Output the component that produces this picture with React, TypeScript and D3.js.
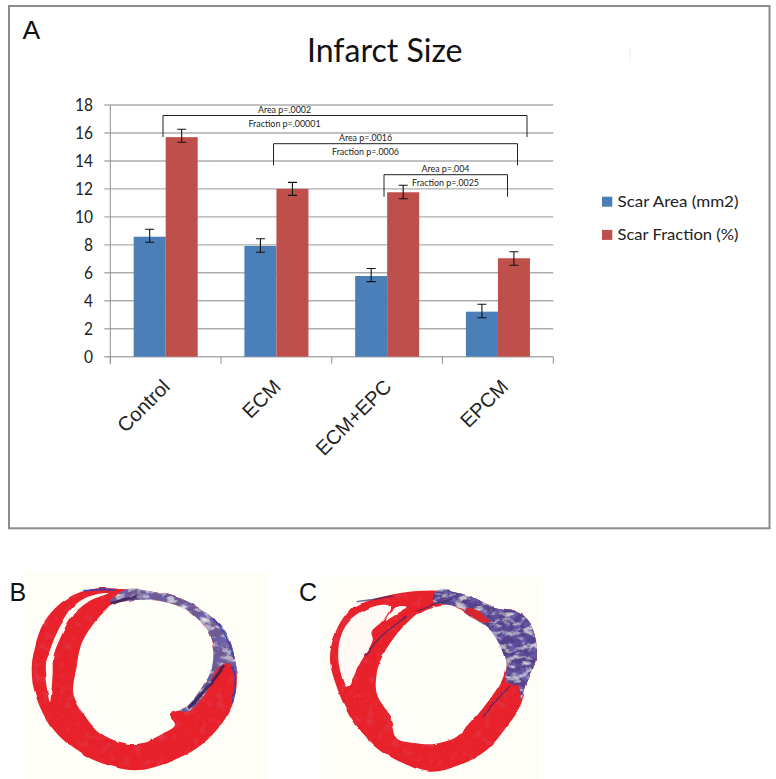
import React from 'react';
import * as d3 from 'd3';

// chart values
const categories = ['Control', 'ECM', 'ECM+EPC', 'EPCM'];
const seriesNames = ['Scar Area (mm2)', 'Scar Fraction (%)'];
const seriesColors = ['#4a7fb8', '#bf4f4a'];
const scarArea = [8.58, 7.92, 5.77, 3.22];
const scarFraction = [15.7, 12, 11.76, 7.04];
const scarAreaHigh = [9.11, 8.44, 6.31, 3.75];
const scarAreaLow = [8.18, 7.47, 5.37, 2.79];
const scarFractionHigh = [16.27, 12.47, 12.26, 7.51];
const scarFractionLow = [15.34, 11.54, 11.3, 6.54];
const yTicks = [0, 2, 4, 6, 8, 10, 12, 14, 16, 18];
const labelShift = [0, 0, 0, 6];

// significance brackets: pixel position in the figure, two p-value labels
const brackets = [
  { x0: 163, x1: 527, top: 115.5, bottom: 137, cx: 284.5, area: 'Area p=.0002', fraction: 'Fraction p=.00001' },
  { x0: 273.5, x1: 517.5, top: 143.7, bottom: 165.3, cx: 365.5, area: 'Area p=.0016', fraction: 'Fraction p=.0006' },
  { x0: 384, x1: 507.5, top: 174.7, bottom: 196.7, cx: 445.5, area: 'Area p=.004', fraction: 'Fraction p=.0025' },
];

type Pt = [number, number];

// section B, traced outlines (crop pixels at 3x)
const bOuter: Pt[] = [[290,85],[380,88],[460,95],[540,115],[620,160],[680,220],[705,300],[710,370],[695,440],[650,510],[590,565],[510,605],[420,630],[340,620],[260,590],[190,540],[140,480],[105,400],[95,330],[105,260],[130,190],[170,140],[220,105]];
const bLumen: Pt[] = [[340,135],[410,120],[490,125],[560,150],[620,210],[640,280],[630,340],[600,390],[560,440],[510,465],[525,495],[490,520],[440,545],[400,552],[340,540],[290,510],[250,460],[220,400],[230,320],[245,250],[290,180]];
const bCavity: Pt[] = [[325,100],[270,108],[225,135],[195,175],[170,220],[150,270],[135,310],[150,430],[158,340],[160,290],[185,225],[215,170],[265,125]];
const bScar: Pt[] = [[330,128],[380,88],[460,95],[540,115],[620,160],[680,220],[705,300],[712,345],[690,310],[650,330],[620,395],[560,455],[530,445],[600,370],[640,280],[620,210],[560,150],[490,125],[410,120]];
const bDark: Pt[][] = [
  [[335,132],[370,118],[410,110]],
  [[675,315],[630,375],[565,445]],
];
const bBlue: Pt[][] = [
  [[640,175],[680,225],[702,295]],
  [[700,320],[710,370],[697,430]],
  [[250,92],[300,88],[350,90]],
];

// section C
const cOuter: Pt[] = [[250,118],[340,98],[440,92],[530,105],[610,140],[680,155],[725,200],[740,300],[710,370],[690,440],[650,500],[590,570],[510,615],[420,635],[340,610],[270,570],[210,510],[170,450],[140,380],[120,300],[135,220],[180,150]];
const cLumen: Pt[] = [[400,150],[480,135],[540,170],[600,210],[645,300],[640,350],[590,430],[540,490],[500,530],[430,552],[380,550],[320,535],[300,470],[260,400],[265,320],[300,250],[350,190]];
const cCavity: Pt[] = [[270,135],[200,165],[160,210],[145,270],[150,330],[170,380],[210,310],[248,240],[245,215],[280,180],[300,140]];
const cSlit: Pt[] = [[350,143],[315,145],[285,182],[325,160]];
const cScar: Pt[] = [[430,125],[440,92],[530,105],[610,140],[680,155],[725,200],[740,300],[710,370],[692,420],[690,380],[650,365],[645,300],[600,210],[560,185],[520,150],[480,135]];
const cPatch: Pt[] = [[525,145],[560,150],[600,185],[570,185]];
const cDark: Pt[][] = [
  [[200,125],[250,118],[310,108]],
  [[380,150],[430,130],[490,120]],
  [[230,285],[265,230],[350,170]],
  [[580,470],[620,420],[660,375]],
];

const width = 776;
const height = 779;
const font = 'Lato, "Open Sans", sans-serif';
const arial = '"Liberation Sans", Arial, sans-serif';

const outline = d3.line<Pt>().curve(d3.curveCatmullRomClosed.alpha(0.5));
const streak = d3.line<Pt>().curve(d3.curveBasis);

const App = () => {
  // 스케일
  const x0 = d3.scaleBand<string>().domain(categories).range([110.3, 553.3]).paddingInner(0.422).paddingOuter(0.211);
  const x1 = d3.scaleBand<number>().domain([0, 1]).range([0, x0.bandwidth()]);
  const y = d3.scaleLinear().domain([0, 18]).range([356.7, 105]);
  const axisTicks = d3.range(categories.length + 1).map((i) => 110.3 + i * x0.step());

  const values = [scarArea, scarFraction];
  const highs = [scarAreaHigh, scarFractionHigh];
  const lows = [scarAreaLow, scarFractionLow];

  // crop pixels to figure pixels
  const toB = (p: Pt): Pt => [p[0] / 3, 560 + p[1] / 3];
  const toC = (p: Pt): Pt => [290 + p[0] / 3, 560 + p[1] / 3];

  return (
    <svg width={width} height={height} style={{ position: 'absolute', left: 0, top: 0, background: '#fff' }}>
      <defs>
        <filter id="rough" x="-5%" y="-5%" width="110%" height="110%">
          <feTurbulence type="fractalNoise" baseFrequency="0.05" numOctaves="3" seed="4" result="n" />
          <feDisplacementMap in="SourceGraphic" in2="n" scale="3" xChannelSelector="R" yChannelSelector="G" result="d" />
          <feGaussianBlur in="d" stdDeviation="0.6" />
        </filter>
        <filter id="mottle" x="-5%" y="-5%" width="110%" height="110%">
          <feTurbulence type="fractalNoise" baseFrequency="0.09 0.16" numOctaves="3" seed="7" />
          <feColorMatrix values="0 0 0 0 1  0 0 0 0 1  0 0 0 0 1  2.2 0 0 0 -1.1" result="f1" />
          <feComposite in="f1" in2="SourceAlpha" operator="in" result="white" />
          <feTurbulence type="fractalNoise" baseFrequency="0.1 0.14" numOctaves="3" seed="12" />
          <feColorMatrix values="0 0 0 0 0.16  0 0 0 0 0.12  0 0 0 0 0.45  2.6 0 0 0 -1.1" result="f2" />
          <feComposite in="f2" in2="SourceAlpha" operator="in" result="dark" />
          <feMerge>
            <feMergeNode in="SourceGraphic" />
            <feMergeNode in="dark" />
            <feMergeNode in="white" />
          </feMerge>
        </filter>
        <filter id="muscle" x="-5%" y="-5%" width="110%" height="110%">
          <feTurbulence type="fractalNoise" baseFrequency="0.12" numOctaves="2" seed="3" />
          <feColorMatrix values="0 0 0 0 0.72  0 0 0 0 0.06  0 0 0 0 0.1  1.2 0 0 0 -0.6" result="f" />
          <feComposite in="f" in2="SourceAlpha" operator="in" result="spots" />
          <feMerge>
            <feMergeNode in="SourceGraphic" />
            <feMergeNode in="spots" />
          </feMerge>
        </filter>
      </defs>

      <rect x={9} y={6} width={760.5} height={522.3} fill="#fff" stroke="#8c8c8c" strokeWidth={2} />
      <line x1={630} x2={630} y1={48} y2={62} stroke="#eeeeee" />

      <text x={22.5} y={38.7} fontFamily={arial} fontSize={26.5} fill="#111">A</text>
      <text x={307} y={61.5} fontFamily={font} fontSize={32.5} textLength={155.5} lengthAdjust="spacingAndGlyphs" fill="#111">Infarct Size</text>

      {/* gridlines and axes */}
      {yTicks.map((t) => (
        <g key={t}>
          <line x1={104.3} x2={553.3} y1={y(t)} y2={y(t)} stroke="#adadad" strokeWidth={1.4} />
          <text x={93} y={y(t) + 6.2} textAnchor="end" fontFamily={font} fontSize={17.5} textLength={String(t).length * 9} lengthAdjust="spacingAndGlyphs" fill="#222">{t}</text>
        </g>
      ))}
      <line x1={110.3} x2={110.3} y1={y(18)} y2={y(0) + 7} stroke="#8f8f8f" strokeWidth={1} />
      {axisTicks.map((t) => (
        <line key={t} x1={t} x2={t} y1={y(0)} y2={y(0) + 7} stroke="#8f8f8f" strokeWidth={1} />
      ))}

      {/* bars */}
      {categories.map((c, i) =>
        values.map((v, s) => {
          const bx = x0(c)! + x1(s)!;
          const cx = bx + x1.bandwidth() / 2;
          return (
            <g key={c + s}>
              <rect x={bx} y={y(v[i])} width={x1.bandwidth()} height={y(0) - y(v[i])} fill={seriesColors[s]} />
              <path
                d={`M${cx - 4.5},${y(highs[s][i])}H${cx + 4.5}M${cx},${y(highs[s][i])}V${y(lows[s][i])}M${cx - 4.5},${y(lows[s][i])}H${cx + 4.5}`}
                fill="none"
                stroke="#111"
                strokeWidth={1.1}
              />
            </g>
          );
        })
      )}

      {/* category labels */}
      {categories.map((c, i) => (
        <text
          key={c}
          transform={`translate(${x0(c)! + x0.bandwidth() / 2 + 5.5 + labelShift[i]},${388}) rotate(-45)`}
          textAnchor="end"
          fontFamily={arial}
          fontSize={20}
          fill="#222"
        >
          {c}
        </text>
      ))}

      {/* brackets */}
      {brackets.map((b) => (
        <g key={b.area}>
          <path d={`M${b.x0},${b.bottom}V${b.top}H${b.x1}V${b.bottom}`} fill="none" stroke="#222" strokeWidth={1} />
          <text x={b.cx} y={b.top - 2.3} textAnchor="middle" fontFamily={font} fontSize={8.9} fill="#222">{b.area}</text>
          <text x={b.cx} y={b.top + 11} textAnchor="middle" fontFamily={font} fontSize={8.9} fill="#222">{b.fraction}</text>
        </g>
      ))}

      {/* legend */}
      {seriesNames.map((n, i) => (
        <g key={n}>
          <rect x={602} y={196.7 + i * 33.2} width={10.3} height={10} fill={seriesColors[i]} />
          <text x={617.5} y={207.3 + i * 32.8} fontFamily={font} fontSize={16} textLength={121} lengthAdjust="spacingAndGlyphs" fill="#222">{n}</text>
        </g>
      ))}

      {/* panel B */}
      <rect x={24} y={571} width={243} height={208} fill="#fffef6" />
      <g filter="url(#rough)">
        <path d={outline(bOuter.map(toB))!} fill="#e8202a" filter="url(#muscle)" />
        <path d={outline(bCavity.map(toB))!} fill="#fffaf4" />
        <path d={outline(bScar.map(toB))!} fill="#6f5a92" filter="url(#mottle)" />
        {bDark.map((s, i) => (
          <path key={i} d={streak(s.map(toB))!} fill="none" stroke="#3a1f55" strokeWidth={3} opacity={0.85} />
        ))}
        {bBlue.map((s, i) => (
          <path key={i} d={streak(s.map(toB))!} fill="none" stroke="#2b3fb5" strokeWidth={1.6} opacity={0.85} />
        ))}
        <path d={outline(bLumen.map(toB))!} fill="#fffffa" />
      </g>
      <text x={9.5} y={600.7} fontFamily={arial} fontSize={25} fill="#111">B</text>

      {/* panel C */}
      <rect x={321} y={577} width={221} height={202} fill="#fffef6" />
      <g filter="url(#rough)">
        <path d={outline(cOuter.map(toC))!} fill="#e8202a" filter="url(#muscle)" />
        <path d={outline(cCavity.map(toC))!} fill="#fffaf4" />
        <path d={outline(cSlit.map(toC))!} fill="#fffaf4" />
        <path d={outline(cScar.map(toC))!} fill="#54408a" filter="url(#mottle)" />
        <path d={outline(cPatch.map(toC))!} fill="#d9262e" />
        {cDark.map((s, i) => (
          <path key={i} d={streak(s.map(toC))!} fill="none" stroke="#3a2a6a" strokeWidth={1.5} opacity={0.7} />
        ))}
        <path d={outline(cLumen.map(toC))!} fill="#fffffa" />
      </g>
      <text x={299} y={600.7} fontFamily={arial} fontSize={25} fill="#111">C</text>
    </svg>
  );
};

export default App;
